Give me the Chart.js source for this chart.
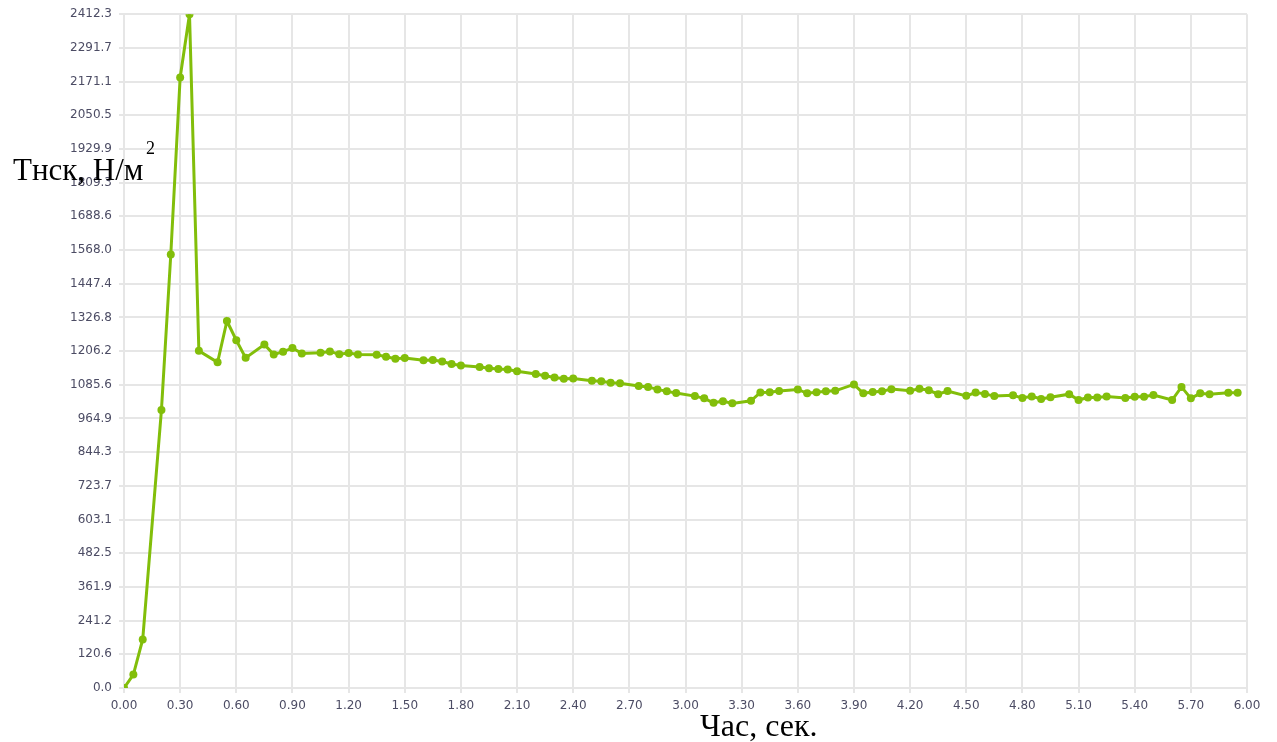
<!DOCTYPE html>
<html>
<head>
<meta charset="utf-8">
<script src="https://cdn.jsdelivr.net/npm/chart.js@4.4.1/dist/chart.umd.min.js"></script>
<style>
  html, body { margin: 0; padding: 0; background: #fff; }
  #wrap { width: 1277px; height: 742px; position: relative; }
</style>
</head>
<body>
<div id="wrap"><canvas id="chart"></canvas></div>
<script>
// time, s
const times = [
  0.00, 0.05, 0.10, 0.20, 0.25, 0.30, 0.35, 0.40, 0.50, 0.55, 0.60, 0.65,
  0.75, 0.80, 0.85, 0.90, 0.95, 1.05, 1.10, 1.15, 1.20, 1.25, 1.35, 1.40,
  1.45, 1.50, 1.60, 1.65, 1.70, 1.75, 1.80, 1.90, 1.95, 2.00, 2.05, 2.10,
  2.20, 2.25, 2.30, 2.35, 2.40, 2.50, 2.55, 2.60, 2.65, 2.75, 2.80, 2.85,
  2.90, 2.95, 3.05, 3.10, 3.15, 3.20, 3.25, 3.35, 3.40, 3.45, 3.50, 3.60,
  3.65, 3.70, 3.75, 3.80, 3.90, 3.95, 4.00, 4.05, 4.10, 4.20, 4.25, 4.30,
  4.35, 4.40, 4.50, 4.55, 4.60, 4.65, 4.75, 4.80, 4.85, 4.90, 4.95, 5.05,
  5.10, 5.15, 5.20, 5.25, 5.35, 5.40, 5.45, 5.50, 5.60, 5.65, 5.70, 5.75,
  5.80, 5.90, 5.95
];
// Тнск, Н/м2
const stress = [
  0, 48, 174, 995, 1552, 2186, 2412, 1207, 1166, 1314, 1245, 1182,
  1230, 1194, 1204, 1217, 1198, 1200, 1205, 1195, 1199, 1194, 1193, 1186,
  1179, 1181, 1173, 1174, 1169, 1160, 1155, 1149, 1145, 1142, 1140, 1134,
  1124, 1118, 1112, 1107, 1108, 1100, 1098, 1093, 1091, 1081, 1078, 1069,
  1062, 1056, 1045, 1037, 1021, 1027, 1019, 1028, 1058, 1059, 1063, 1069,
  1055, 1059, 1062, 1064, 1087, 1055, 1060, 1062, 1070, 1064, 1071, 1066,
  1052, 1063, 1046, 1058, 1053, 1045, 1048, 1038, 1044, 1035, 1041, 1052,
  1031, 1040, 1040, 1044, 1038, 1043, 1043, 1049, 1031, 1078, 1037, 1055,
  1052, 1057, 1057
];
const xTicks = [0.00, 0.30, 0.60, 0.90, 1.20, 1.50, 1.80, 2.10, 2.40, 2.70, 3.00,
  3.30, 3.60, 3.90, 4.20, 4.50, 4.80, 5.10, 5.40, 5.70, 6.00];
const yTicks = [0.0, 120.6, 241.2, 361.9, 482.5, 603.1, 723.7, 844.3, 964.9, 1085.6,
  1206.2, 1326.8, 1447.4, 1568.0, 1688.6, 1809.3, 1929.9, 2050.5, 2171.1, 2291.7, 2412.3];

const yTitle = 'Тнск, Н/м';
const yTitleSup = '2';
const xTitle = 'Час, сек.';

const green = '#82be0a';
const gridColor = '#e6e6e6';
const tickFont = { family: 'DejaVu Sans', size: 12 };
const tickColor = '#4c4c64';

// axis titles sit on top of the chart, like in the original
const titles = {
  id: 'titles',
  afterDraw(chart) {
    const ctx = chart.ctx;
    ctx.save();
    ctx.fillStyle = '#000';
    ctx.textBaseline = 'alphabetic';
    ctx.textAlign = 'left';
    ctx.font = '31px "Liberation Serif"';
    ctx.fillText(yTitle, 13, 180);
    ctx.font = '32px "Liberation Serif"';
    ctx.fillText(xTitle, 700, 736);
    ctx.font = '18px "Liberation Serif"';
    ctx.fillText(yTitleSup, 146, 154);
    ctx.restore();
  }
};

new Chart(document.getElementById('chart'), {
  type: 'line',
  data: {
    datasets: [{
      data: times.map((t, i) => ({ x: t, y: stress[i] })),
      borderColor: green,
      backgroundColor: green,
      borderWidth: 3,
      pointRadius: 4,
      pointBorderWidth: 0,
      pointBackgroundColor: green,
      tension: 0
    }]
  },
  options: {
    responsive: true,
    maintainAspectRatio: false,
    animation: false,
    layout: { padding: { top: 14, right: 30, left: 0, bottom: 0 } },
    plugins: { legend: { display: false }, tooltip: { enabled: false } },
    scales: {
      x: {
        type: 'linear',
        min: 0,
        max: 6,
        afterBuildTicks: s => { s.ticks = xTicks.map(v => ({ value: v })); },
        afterFit: s => { s.height = 54; },
        grid: { color: gridColor, lineWidth: 2, tickLength: 5 },
        border: { color: gridColor, width: 2 },
        ticks: {
          font: tickFont,
          color: tickColor,
          padding: 6,
          maxRotation: 0,
          autoSkip: false,
          callback: v => Number(v).toFixed(2)
        }
      },
      y: {
        min: 0,
        max: 2412.3,
        afterBuildTicks: s => { s.ticks = yTicks.map(v => ({ value: v })); },
        afterFit: s => { s.width = 124; },
        grid: { color: gridColor, lineWidth: 2, tickLength: 5 },
        border: { color: gridColor, width: 2 },
        ticks: {
          font: tickFont,
          color: tickColor,
          padding: 7,
          autoSkip: false,
          callback: v => Number(v).toFixed(1)
        }
      }
    }
  },
  plugins: [titles]
});
</script>
</body>
</html>
